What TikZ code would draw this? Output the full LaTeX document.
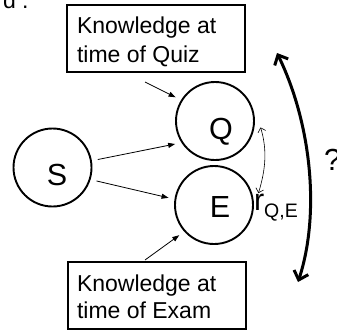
\documentclass[tikz,border=0pt]{standalone}
\usepackage{fontspec}
\setmainfont{Liberation Sans}
\usetikzlibrary{arrows.meta,calc}
\begin{document}
\begin{tikzpicture}[x=1pt,y=-1pt,
  every node/.style={inner sep=0pt, outer sep=0pt},
  var/.style={circle, draw, line width=1.9pt, minimum size=78pt, outer sep=7pt},
  kbox/.style={draw, line width=1.2pt, minimum width=178pt, minimum height=67pt},
  txt/.style={anchor=base west, font=\fontsize{23}{28}\selectfont},
  big/.style={anchor=base, font=\fontsize{30.5}{34}\selectfont},
  thinarr/.style={line width=0.8pt, -{Triangle[length=7pt,width=5pt]}},
  qearr/.style={line width=0.6pt, {Straight Barb[length=4pt,width=8pt]}-{Straight Barb[length=4pt,width=8pt]}},
  bigarr/.style={line width=3pt, {Straight Barb[length=8pt,width=15pt]}-{Straight Barb[length=8pt,width=15pt]}},
]
\useasboundingbox (0,0) rectangle (337,333);
% fragment of text at top left
\node[txt] (frag) at (3,8) {d .};
% boxes
\node[kbox] (qbox) at (156,38.5) {};
\node[txt] (qb1) at (77,33) {Knowledge at};
\node[txt] (qb2) at (77,62) {time of Quiz};
\node[kbox] (ebox) at (157,295.5) {};
\node[txt] (eb1) at (77,291) {Knowledge at};
\node[txt] (eb2) at (77,318) {time of Exam};
% variables
\node[var] (S) at (52.5,167.5) {};
\node[var] (Q) at (215,121) {};
\node[var] (E) at (214,205) {};
\node[big] (Sl) at (57,185.5) {S};
\node[big] (Ql) at (221,139.5) {Q};
\node[big] (El) at (220,217.5) {E};
% connectors
\draw[thinarr] ($(qbox.south)+(-11,10)$) -- (Q.149);
\draw[thinarr] ($(ebox.north)+(-12,-2)$) -- (E.221);
\draw[thinarr] (S.10) -- (Q.210);
\draw[thinarr] (S.-17) -- (E.171);
\draw[qearr] (Q.-8) .. controls +(7,23) and +(7,-23) .. (E.15);
\node[anchor=base west, font=\fontsize{30.5}{34}\selectfont] (r) at (254,210)
  {r\raisebox{-7pt}{\fontsize{19.5}{22}\selectfont Q,E}};
% big arc
\coordinate (aT) at (277,53);
\coordinate (aB) at (298,282);
\draw[bigarr] (aT) .. controls (312,125) and (320,215) .. (aB);
\node[anchor=base west, font=\fontsize{30.5}{34}\selectfont] (qm) at (324,170) {?};
\end{tikzpicture}
\end{document}
